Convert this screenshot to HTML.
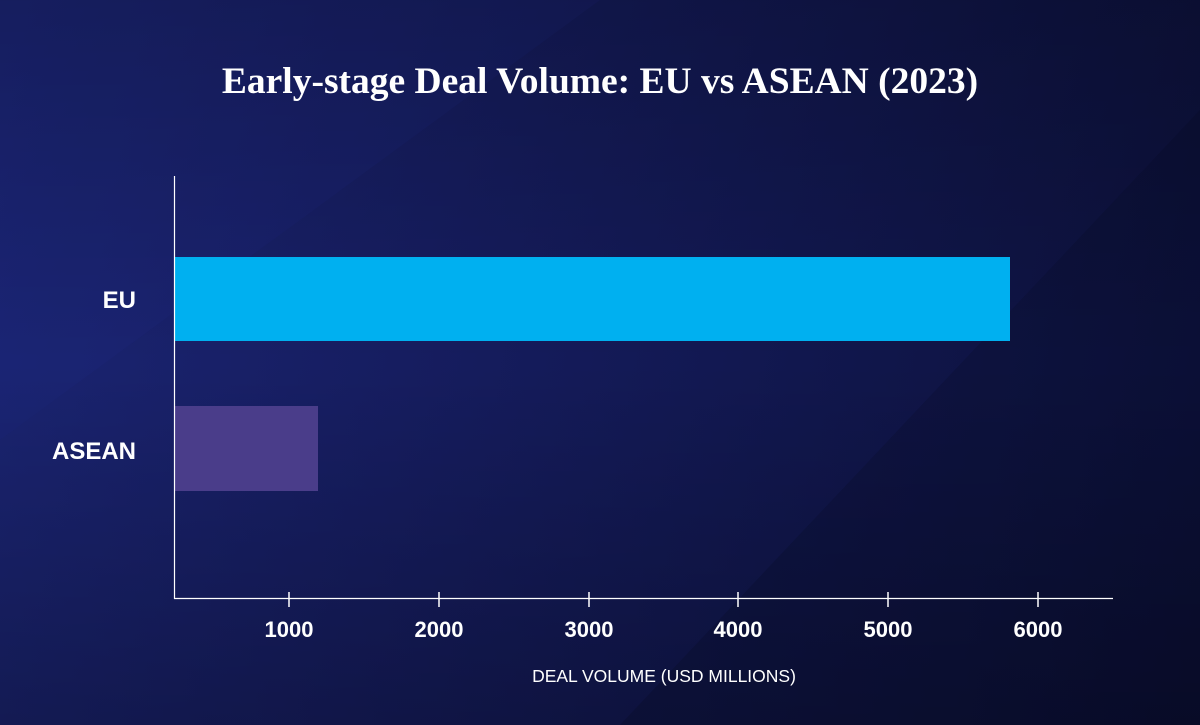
<!DOCTYPE html>
<html><head><meta charset="utf-8"><style>
html,body{margin:0;padding:0}
body{width:1200px;height:725px;overflow:hidden;position:relative;
background:linear-gradient(100deg,#1b2574 0%,#161d60 35%,#11174e 65%,#0c1038 100%);font-family:"Liberation Sans",sans-serif;color:#fff}
svg{position:absolute;left:0;top:0}
</style></head><body>
<svg width="1200" height="725" viewBox="0 0 1200 725">
<defs>
<linearGradient id="v" x1="0" y1="0" x2="0" y2="1">
<stop offset="0" stop-color="#000" stop-opacity="0.2"/>
<stop offset="0.5" stop-color="#000" stop-opacity="0"/>
<stop offset="1" stop-color="#000" stop-opacity="0.25"/>
</linearGradient>
</defs>
<polygon points="0,0 600,0 0,440" fill="#1f2a80" opacity="0.2"/>
<polygon points="620,725 1200,110 1200,725" fill="#080a28" opacity="0.25"/>
<rect width="1200" height="725" fill="url(#v)"/>
<text x="600" y="93" text-anchor="middle" font-family="Liberation Serif, serif" font-weight="bold" font-size="37.5" fill="#fff">Early-stage Deal Volume: EU vs ASEAN (2023)</text>
<rect x="174" y="257" width="836" height="84" fill="#00b0f0"/>
<rect x="174" y="406" width="144" height="85" fill="#4a3d8a"/>
<line x1="174.5" y1="176" x2="174.5" y2="599" stroke="#fff" stroke-width="1.2"/>
<line x1="174" y1="598.5" x2="1113" y2="598.5" stroke="#fff" stroke-width="1.2"/>
<g stroke="#fff" stroke-width="1.5">
<line x1="289" y1="592" x2="289" y2="607"/><line x1="439" y1="592" x2="439" y2="607"/>
<line x1="589" y1="592" x2="589" y2="607"/><line x1="738" y1="592" x2="738" y2="607"/>
<line x1="888" y1="592" x2="888" y2="607"/><line x1="1038" y1="592" x2="1038" y2="607"/>
</g>
<g font-weight="bold" font-size="22" fill="#fff" text-anchor="middle">
<text x="289" y="637">1000</text><text x="439" y="637">2000</text><text x="589" y="637">3000</text>
<text x="738" y="637">4000</text><text x="888" y="637">5000</text><text x="1038" y="637">6000</text>
</g>
<g font-weight="bold" font-size="24" fill="#fff" text-anchor="end">
<text x="136" y="308">EU</text><text x="136" y="459">ASEAN</text>
</g>
<text x="664" y="682" text-anchor="middle" font-size="17.5" fill="#fff">DEAL VOLUME (USD MILLIONS)</text>
</svg>
</body></html>
